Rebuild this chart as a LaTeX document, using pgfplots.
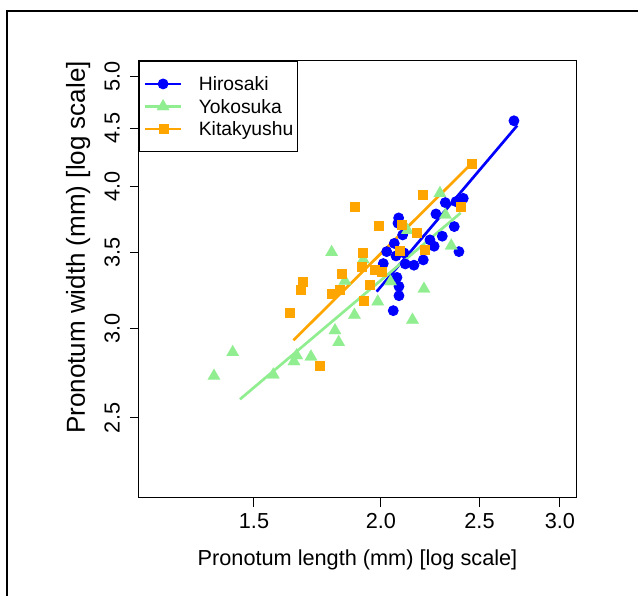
\documentclass[border=0pt]{standalone}
\usepackage{fontspec}
\setmainfont{Liberation Sans}
\usepackage{pgfplots}
\pgfplotsset{compat=1.18}
\usepackage{pgfplotstable}
\definecolor{rblue}{RGB}{0,0,255}
\definecolor{rgreen}{RGB}{144,238,144}
\definecolor{rorange}{RGB}{255,165,0}

\pgfplotstableread{
x y
2.7030 4.5665
2.4098 3.9022
2.3703 3.8769
2.3136 3.8690
2.2652 3.7814
2.0817 3.7508
2.0785 3.7107
2.3612 3.6852
2.1007 3.6237
2.2978 3.6141
2.2346 3.5871
2.0612 3.5617
2.2560 3.5415
2.0260 3.5030
2.3864 3.5030
2.0691 3.4725
2.1069 3.4938
2.0104 3.4188
2.1131 3.4166
2.1552 3.4077
2.2011 3.4445
2.0738 3.3244
2.0832 3.2643
2.0832 3.2033
2.0564 3.1078
}\hirosaki

\pgfplotstableread{
x y
1.3700 2.7223
1.4294 2.8564
1.5670 2.7296
1.6422 2.8036
1.6523 2.8379
1.7067 2.8310
1.7886 3.4988
1.8021 2.9855
1.8173 2.9149
1.8434 3.3009
1.8834 3.0809
1.9214 3.4466
1.9855 3.1651
2.0434 3.2962
2.1237 3.6584
2.1479 3.0498
2.2046 3.2478
2.2859 3.9436
2.3146 3.7737
2.3452 3.5451
}\yokosuka

\pgfplotstableread{
x y
2.4577 4.1850
2.1981 3.9356
1.8826 3.8409
2.3957 3.8378
1.9878 3.6927
2.0959 3.7002
2.1684 3.6406
1.9179 3.4973
2.0841 3.5130
2.2080 3.5172
1.9144 3.4008
1.9716 3.3807
2.0031 3.3616
1.8288 3.3501
1.9476 3.2742
1.8205 3.2411
1.7886 3.2150
1.9214 3.1709
1.6742 3.2942
1.6678 3.2444
1.6249 3.0953
1.7418 2.7781
}\kitakyushu

\begin{document}
\begin{tikzpicture}
\useasboundingbox (-139pt,-98.3pt) rectangle (499pt,497.7pt);
\draw[line width=1.8pt] (-132pt,-120pt) -- (-132pt,486.7pt) -- (520pt,486.7pt);
\begin{axis}[
  at={(0pt,0pt)}, anchor=south west,
  scale only axis, width=437pt, height=436.7pt,
  xmode=log, ymode=log,
  xmin=1.156, xmax=3.111, ymin=2.127, ymax=5.155,
  xtick={1.5,2,2.5,3}, xticklabels={1.5,2.0,2.5,3.0},
  ytick={2.5,3,3.5,4,4.5,5}, yticklabels={2.5,3.0,3.5,4.0,4.5,5.0},
  xminorticks=false, yminorticks=false,
  tick align=outside, major tick length=9pt,
  xtick pos=bottom, ytick pos=left,
  every tick/.style={black, line width=1pt},
  axis line style={line width=1pt, black},
  tick label style={font=\fontsize{21.7}{26}\selectfont, inner sep=0pt},
  xticklabel style={anchor=north},
  yticklabel style={rotate=90, anchor=south},
  xticklabel shift=6.6pt,
  yticklabel shift=10pt,
  xlabel={Pronotum length (mm) [log scale]},
  xlabel style={font=\fontsize{21.7}{26}\selectfont, at={(axis description cs:0.5,-0.1198)}, anchor=north, inner sep=0pt},
  ylabel={Pronotum width (mm) [log scale]},
  ylabel style={font=\fontsize{26}{31}\selectfont, at={(axis description cs:-0.111,0.573)}, anchor=south, inner sep=0pt},
  legend style={at={(0,1)}, anchor=north west, draw=black, line width=0.9pt, fill=white,
    inner xsep=4.3pt, inner ysep=11.25pt, row sep=0pt, column sep=16.4pt,
    font=\fontsize{19.3}{23}\selectfont,
    nodes={inner sep=0pt, text height=17.95pt, text depth=4.55pt}},
  legend cell align=left,
  legend image code/.code={\draw[mark repeat=2, mark phase=2, #1] plot coordinates {(0pt,0pt) (18pt,0pt) (36pt,0pt)};},
]
\addlegendimage{rblue, line width=2.7pt, mark=*, mark size=5pt, mark options={solid, line width=0.8pt}}
\addlegendimage{rgreen, line width=2.7pt, mark=triangle*, mark size=7.2pt, mark options={solid, line width=0.1pt}}
\addlegendimage{rorange, line width=2.7pt, mark=square*, mark size=4.5pt, mark options={solid, line width=0.1pt}}

\addplot[forget plot, only marks, rblue, mark=*, mark size=5pt, mark options={line width=0.8pt}] table {\hirosaki};
\addplot[forget plot, only marks, rgreen, mark=triangle*, mark size=7.2pt, mark options={line width=0.1pt}] table {\yokosuka};
\addplot[forget plot, only marks, rorange, mark=square*, mark size=4.5pt, mark options={line width=0.1pt}] table {\kitakyushu};

\addplot[forget plot, rblue, line width=2.7pt, no marks] coordinates {(1.9806,3.2300) (2.7233,4.5231)};
\addplot[forget plot, rgreen, line width=2.7pt, no marks] coordinates {(1.4532,2.5967) (2.3956,3.7891)};
\addplot[forget plot, rorange, line width=2.7pt, no marks] coordinates {(1.6404,2.9268) (2.4494,4.1782)};

\legend{Hirosaki,Yokosuka,Kitakyushu}
\end{axis}
\end{tikzpicture}
\end{document}
